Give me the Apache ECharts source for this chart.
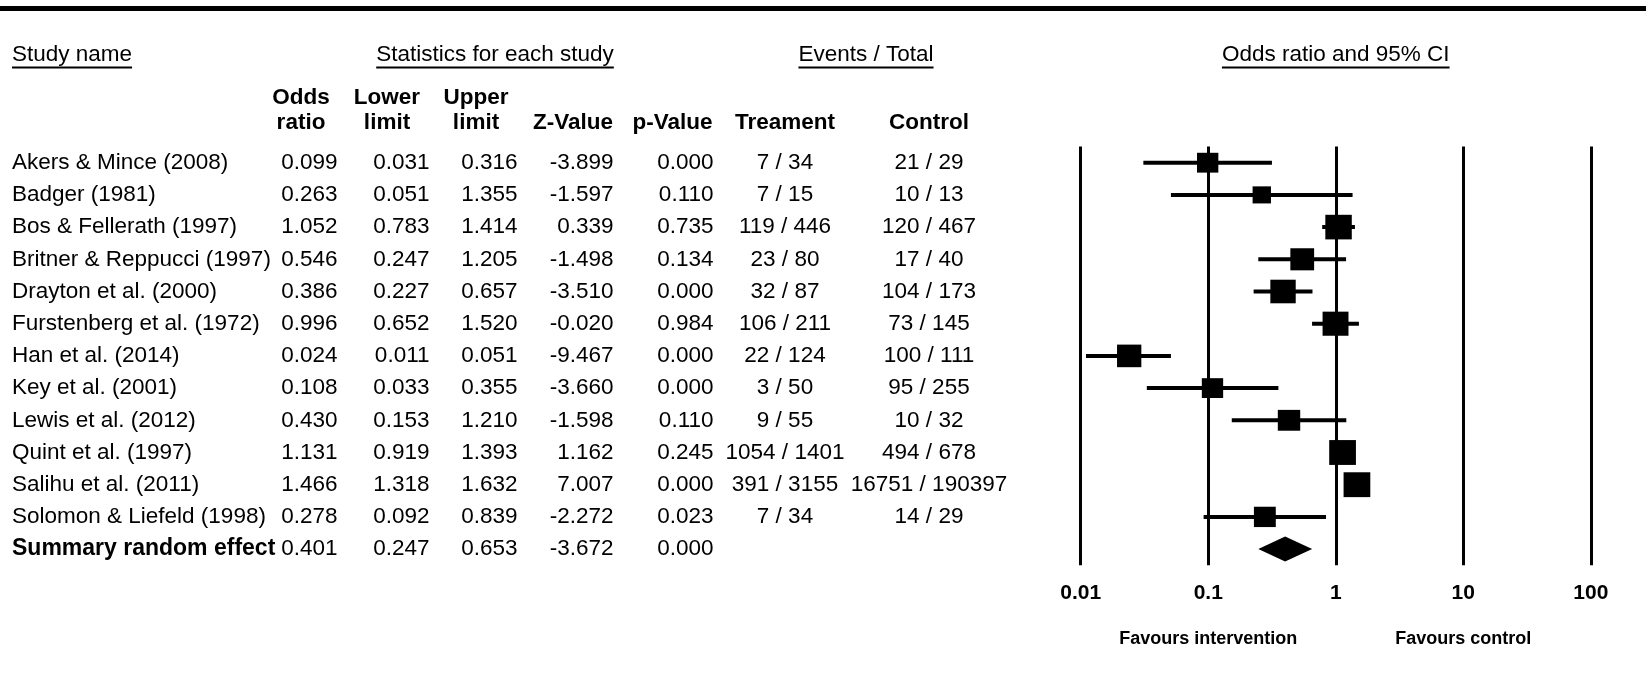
<!DOCTYPE html>
<html><head><meta charset="utf-8">
<script src="https://cdn.jsdelivr.net/npm/echarts@6/dist/echarts.min.js"></script>
<style>html,body{margin:0;padding:0;background:#fff}#c{width:1646px;height:693px}</style>
</head><body><div id="c"></div>
<script>
// ---------------- data ----------------
const studies = ['Akers & Mince (2008)','Badger (1981)','Bos & Fellerath (1997)','Britner & Reppucci (1997)',
  'Drayton et al. (2000)','Furstenberg et al. (1972)','Han et al. (2014)','Key et al. (2001)','Lewis et al. (2012)',
  'Quint et al. (1997)','Salihu et al. (2011)','Solomon & Liefeld (1998)','Summary random effect'];
const oddsRatio  = [0.099,0.263,1.052,0.546,0.386,0.996,0.024,0.108,0.430,1.131,1.466,0.278,0.401];
const lowerLimit = [0.031,0.051,0.783,0.247,0.227,0.652,0.011,0.033,0.153,0.919,1.318,0.092,0.247];
const upperLimit = [0.316,1.355,1.414,1.205,0.657,1.520,0.051,0.355,1.210,1.393,1.632,0.839,0.653];
const zValue = ['-3.899','-1.597','0.339','-1.498','-3.510','-0.020','-9.467','-3.660','-1.598','1.162','7.007','-2.272','-3.672'];
const pValue = ['0.000','0.110','0.735','0.134','0.000','0.984','0.000','0.000','0.110','0.245','0.000','0.023','0.000'];
const treatment = ['7 / 34','7 / 15','119 / 446','23 / 80','32 / 87','106 / 211','22 / 124','3 / 50','9 / 55','1054 / 1401','391 / 3155','7 / 34',''];
const control = ['21 / 29','10 / 13','120 / 467','17 / 40','104 / 173','73 / 145','100 / 111','95 / 255','10 / 32','494 / 678','16751 / 190397','14 / 29',''];
// relative study weight (drives the square size); the last row is the pooled summary
const relWeight = [0.79,0.68,0.98,0.88,0.94,0.96,0.90,0.79,0.83,0.99,0.99,0.81,1];
const isSummary = [0,0,0,0,0,0,0,0,0,0,0,0,1];
const xTicks = ['0.01','0.1','1','10','100'];
const favourLabels = ['Favours intervention','Favours control'];
const groupHeaders = ['Study name','Statistics for each study','Events / Total','Odds ratio and 95% CI'];
const colHeaders = ['Odds\nratio','Lower\nlimit','Upper\nlimit','Z-Value','p-Value','Treament','Control'];

// ---------------- layout ----------------
const FONT = '"Liberation Sans", Arial, Helvetica, sans-serif';
const FS = 22.5;
const GRID_LEFT = 1080.7, GRID_RIGHT = 55.2, GRID_TOP = 146.6, GRID_BOTTOM = 127.8;

const chart = echarts.init(document.getElementById('c'), null, {renderer: 'canvas'});

function colAxis(data, anchorX, align, extraLabel) {
  return {
    type: 'category', gridIndex: 0, position: 'left', inverse: true,
    offset: GRID_LEFT - anchorX, data: data,
    axisLine: {show: false}, axisTick: {show: false}, splitLine: {show: false},
    axisLabel: Object.assign({interval: 0, margin: 0, align: align, color: '#000', fontSize: FS, fontFamily: FONT}, extraLabel || {})
  };
}

const seriesData = studies.map((s, i) => [lowerLimit[i], upperLimit[i], oddsRatio[i], i, relWeight[i], isSummary[i]]);

const option = {
  backgroundColor: '#fff',
  animation: false,
  grid: {left: GRID_LEFT, right: GRID_RIGHT, top: GRID_TOP, bottom: GRID_BOTTOM, containLabel: false, outerBoundsMode: 'none'},
  xAxis: [{
    type: 'log', logBase: 10, min: 0.01, max: 100, position: 'bottom',
    axisLine: {show: false}, axisTick: {show: false},
    splitLine: {show: true, lineStyle: {color: '#000', width: 3}},
    axisLabel: {margin: 18, color: '#000', fontSize: 21, fontWeight: 'bold', fontFamily: FONT,
      showMinLabel: true, showMaxLabel: true,
      formatter: v => xTicks[Math.round(Math.log10(v)) + 2] || ''}
  }, {
    type: 'log', logBase: 10, min: 0.01, max: 100, position: 'bottom',
    axisLine: {show: false}, axisTick: {show: false}, splitLine: {show: false},
    axisLabel: {margin: 65, color: '#000', fontSize: 18, fontWeight: 'bold', fontFamily: FONT,
      showMinLabel: true, showMaxLabel: true,
      formatter: v => {
        const e = Math.round(Math.log10(v));
        return e === -1 ? favourLabels[0] : (e === 1 ? favourLabels[1] : '');
      }}
  }],
  yAxis: [
    colAxis(studies, 12, 'left', {
      formatter: (v, i) => isSummary[i] ? '{b|' + v + '}' : v,
      rich: {b: {fontWeight: 'bold', fontSize: 23, fontFamily: FONT, color: '#000', align: 'left'}}
    }),
    colAxis(oddsRatio.map(v => v.toFixed(3)), 337.5, 'right'),
    colAxis(lowerLimit.map(v => v.toFixed(3)), 429.5, 'right'),
    colAxis(upperLimit.map(v => v.toFixed(3)), 517.5, 'right'),
    colAxis(zValue, 613.5, 'right'),
    colAxis(pValue, 713.5, 'right'),
    colAxis(treatment, 785, 'center'),
    colAxis(control, 929, 'center')
  ],
  series: [{
    type: 'custom', xAxisIndex: 0, yAxisIndex: 0,
    encode: {x: [0, 1, 2], y: 3},
    data: seriesData,
    clip: false,
    renderItem: function (params, api) {
      const row = api.value(3);
      const lo = api.coord([api.value(0), row]);
      const hi = api.coord([api.value(1), row]);
      const mid = api.coord([api.value(2), row]);
      if (api.value(5)) {
        const h = 12.5;
        return {type: 'polygon', shape: {points: [[lo[0], mid[1]], [mid[0], mid[1] - h], [hi[0], mid[1]], [mid[0], mid[1] + h]]},
          style: {fill: '#000'}};
      }
      const w = 27 * api.value(4), hh = w * 0.93;
      return {type: 'group', children: [
        {type: 'line', shape: {x1: lo[0], y1: lo[1], x2: hi[0], y2: hi[1]}, style: {stroke: '#000', lineWidth: 4}},
        {type: 'rect', shape: {x: mid[0] - w / 2, y: mid[1] - hh / 2, width: w, height: hh}, style: {fill: '#000'}}
      ]};
    }
  }]
};
chart.setOption(option);

// ---------------- headers ----------------
const ctx = document.createElement('canvas').getContext('2d');
ctx.font = FS + 'px ' + FONT;
const plotCenter = chart.convertToPixel({xAxisIndex: 0}, 1);
const groupPos = [[12, 'left'], [495, 'center'], [866, 'center'], [plotCenter, 'center']];
const colPos = [301, 387, 476, 573, 672.5, 785, 929];
const graphics = [{type: 'rect', shape: {x: 0, y: 6, width: 1646, height: 5}, style: {fill: '#000'}}];
groupHeaders.forEach((t, i) => {
  const [x, al] = groupPos[i];
  const w = ctx.measureText(t).width;
  const x0 = al === 'left' ? x : x - w / 2;
  graphics.push({type: 'text', x: x, y: 55,
    style: {text: t, fill: '#000', font: FS + 'px ' + FONT, align: al, textAlign: al, verticalAlign: 'middle', textVerticalAlign: 'middle'}});
  graphics.push({type: 'line', shape: {x1: x0, y1: 67.5, x2: x0 + w, y2: 67.5}, style: {stroke: '#000', lineWidth: 2}});
});
colHeaders.forEach((t, i) => {
  const two = t.indexOf('\n') >= 0;
  graphics.push({type: 'text', x: colPos[i], y: two ? 110.2 : 122.8,
    style: {text: t, fill: '#000', font: 'bold ' + FS + 'px ' + FONT, lineHeight: 25.2,
      align: 'center', textAlign: 'center', verticalAlign: 'middle', textVerticalAlign: 'middle'}});
});
chart.setOption({graphic: graphics});
</script></body></html>
